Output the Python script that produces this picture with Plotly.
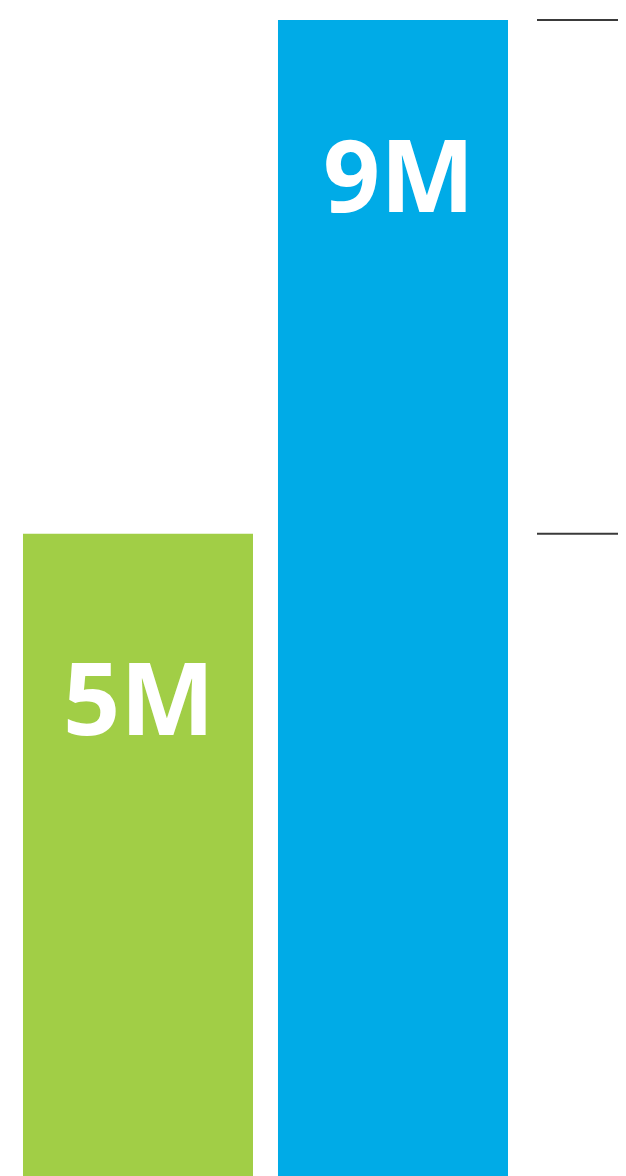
import plotly.graph_objects as go

categories = ["A", "B"]
values = [5, 9]
labels = ["5M", "9M"]
colors = ["#A1CE46", "#00ABE7"]
ref_lines = [9, 5]

# label placement tweaks (pixels)
label_yshift = [-92, -83]
label_xshift = [0, 5]

fig = go.Figure()
fig.add_trace(go.Bar(
    x=categories, y=values,
    marker=dict(color=colors, line=dict(width=0)),
    width=0.902,
    hoverinfo="skip",
))

for c, v, t, ys, xs in zip(categories, values, labels, label_yshift, label_xshift):
    fig.add_annotation(
        x=c, y=v, text=t, showarrow=False,
        yanchor="top", yshift=ys, xshift=xs,
        font=dict(family="Open Sans", size=100, color="white", weight="bold"),
    )

for v in ref_lines:
    fig.add_shape(type="line", xref="paper", yref="y",
                  x0=529/626, x1=1.03, y0=v, y1=v,
                  line=dict(color="#3a3a3a", width=2))

fig.update_layout(
    width=626, height=1176,
    margin=dict(l=0, r=0, t=0, b=0),
    paper_bgcolor="white", plot_bgcolor="white",
    showlegend=False,
    xaxis=dict(range=[-0.5098, 1.9451], visible=False, type="category"),
    yaxis=dict(range=[-0.0623, 9.0934], visible=False),
)

fig.write_html("out.html")
